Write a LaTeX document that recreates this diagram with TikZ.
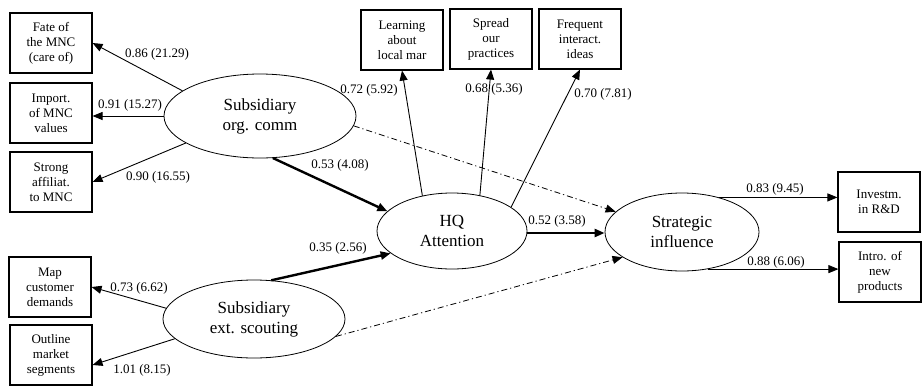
\documentclass[tikz,border=0pt]{standalone}
\usepackage{fontspec}
\setmainfont{Liberation Serif}
\newfontfamily\tms{Liberation Serif}
\usetikzlibrary{shapes.geometric,arrows.meta,calc}
\begin{document}
\begin{tikzpicture}[x=1pt,y=-1pt,
  ind/.style={draw,line width=1.1pt,minimum width=82pt,minimum height=60pt,inner sep=0pt,align=center,font=\tms\fontsize{13}{15}\selectfont},
  lat/.style={draw,ellipse,line width=0.8pt,inner sep=0pt,align=center,font=\tms\fontsize{17}{20}\selectfont},
  lab/.style={inner sep=0pt,font=\tms\fontsize{13}{15}\selectfont},
  tip/.style={-{Triangle[length=10pt,width=8pt]}},
  thin/.style={tip,line width=0.9pt},
  thick/.style={tip,line width=2.4pt},
  dd/.style={tip,line width=0.8pt,dash pattern=on 6pt off 3pt on 1.2pt off 3pt}]
\useasboundingbox (0,0) rectangle (922,386);
% latent variables
\node[lat,minimum width=192pt,minimum height=84pt] (e1) at (260,116) {Subsidiary\\org. comm};
\node[lat,minimum width=182pt,minimum height=78pt] (e2) at (254,319) {Subsidiary\\ext. scouting};
\node[lat,minimum width=150pt,minimum height=76pt] (hq) at (452,231) {HQ\\Attention};
\node[lat,minimum width=154pt,minimum height=78pt] (s) at (682,232) {Strategic\\influence};
% indicators
\node[ind] (b1) at (51,43) {Fate of\\the MNC\\(care of)};
\node[ind] (b2) at (51,113) {Import.\\of MNC\\values};
\node[ind] (b3) at (51,182) {Strong\\affiliat.\\to MNC};
\node[ind] (b4) at (50,287) {Map\\customer\\demands};
\node[ind] (b5) at (51,355) {Outline\\market\\segments};
\node[ind] (b6) at (402,40) {Learning\\about\\local mar};
\node[ind] (b7) at (491,39) {Spread\\our\\practices};
\node[ind] (b8) at (580,39) {Frequent\\interact.\\ideas};
\node[ind] (b9) at (879,202) {Investm.\\in R\&D};
\node[ind] (b10) at (880,272) {Intro. of\\new\\products};
% measurement arrows
\draw[thin] (e1.162) -- (b1.east);
\draw[thin] (e1.west) -- (e1.west -| b2.east);
\draw[thin] (e1.200) -- (b3.east);
\draw[thin] (e2.173) -- (b4.east);
\draw[thin] (e2.194) -- ($(b5.east)+(0,10)$);
\draw[thin] (hq.130) -- (b6.south);
\draw[thin] (hq.52) -- (b7.south);
\draw[thin] (hq.22) -- (b8.south);
\draw[thin] (s.43) -- (s.43 -| b9.west);
\draw[thin] (s.-55) -- (s.-55 -| b10.west);
% structural arrows
\draw[thick] (e1.-73) -- (hq.163);
\draw[thick] (e2.66) -- (hq.200);
\draw[thick] ($(hq.east)+(0,2)$) -- ($(hq.east -| s.west)+(0,2)$);
\draw[dd] (e1.-6) -- (s.163);
\draw[dd] (e2.-12.5) -- (s.203);
% labels
\node[lab] (l1) at (157,54) {0.86 (21.29)};
\node[lab] (l2) at (130,105) {0.91 (15.27)};
\node[lab] (l3) at (158,177) {0.90 (16.55)};
\node[lab] (l4) at (139,288) {0.73 (6.62)};
\node[lab] (l5) at (142,370) {1.01 (8.15)};
\node[lab] (l6) at (369,90) {0.72 (5.92)};
\node[lab] (l7) at (494,89) {0.68 (5.36)};
\node[lab] (l8) at (603,94) {0.70 (7.81)};
\node[lab] (l9) at (340,165) {0.53 (4.08)};
\node[lab] (l10) at (338,248) {0.35 (2.56)};
\node[lab] (l11) at (557,221) {0.52 (3.58)};
\node[lab] (l12) at (775,189) {0.83 (9.45)};
\node[lab] (l13) at (776,262) {0.88 (6.06)};
\end{tikzpicture}
\end{document}
